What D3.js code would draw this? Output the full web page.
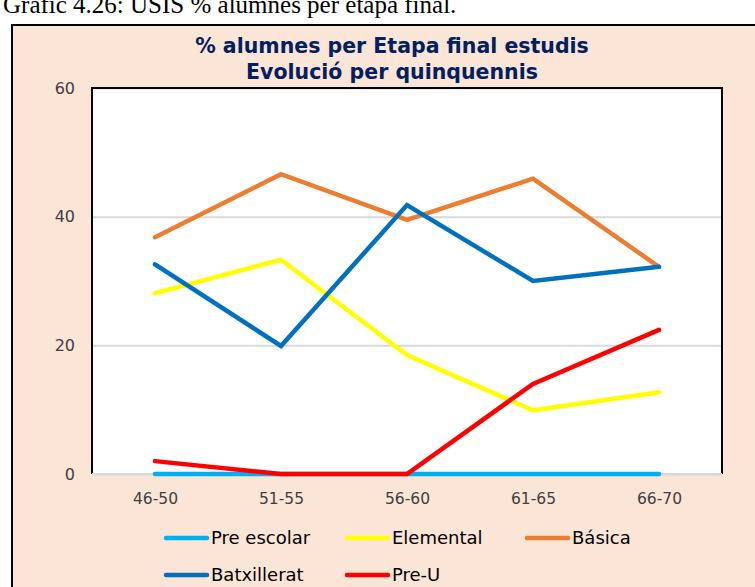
<!DOCTYPE html>
<html>
<head>
<meta charset="utf-8">
<script src="https://cdn.jsdelivr.net/npm/d3@7"></script>
<style>
  html, body { margin: 0; padding: 0; background: #ffffff; }
  svg { display: block; }
</style>
</head>
<body>
<svg id="chart" width="755" height="587"></svg>
<script>
// Five-year periods (quinquennis)
const periods = ["46-50", "51-55", "56-60", "61-65", "66-70"];

// Share of students (%) by final stage of studies
const preEscolar  = [0, 0, 0, 0, 0];
const elemental   = [28.1, 33.3, 18.5, 9.9, 12.7];
const basica      = [36.8, 46.6, 39.5, 45.9, 32.2];
const batxillerat = [32.6, 19.9, 41.8, 30.0, 32.2];
const preU        = [2.0, 0, 0, 14.0, 22.4];

const seriesNames  = ["Pre escolar", "Elemental", "Básica", "Batxillerat", "Pre-U"];
const seriesColors = ["#00B0F0", "#FFFF00", "#ED7D31", "#0070C0", "#FF0000"];
const seriesValues = [preEscolar, elemental, basica, batxillerat, preU];

const yTicks = [0, 20, 40, 60];

const svg = d3.select("#chart");
const W = 755, H = 587;

// Caption above the chart frame
svg.append("text")
  .attr("x", 3).attr("y", 13)
  .attr("font-family", "'Liberation Serif', 'Times New Roman', serif")
  .attr("font-size", 25)
  .attr("fill", "#000")
  .text("Gràfic 4.26: USIS % alumnes per etapa final.");

// Chart frame
svg.append("rect")
  .attr("x", 12).attr("y", 25)
  .attr("width", W + 20).attr("height", H + 20)
  .attr("fill", "#FBE5D6")
  .attr("stroke", "#000").attr("stroke-width", 2);

// Title
const title = svg.append("text")
  .attr("text-anchor", "middle")
  .attr("font-family", "'DejaVu Sans', Verdana, sans-serif")
  .attr("font-weight", "bold")
  .attr("font-size", 20.5)
  .attr("fill", "#002060");
title.append("tspan").attr("x", 392).attr("y", 53).text("% alumnes per Etapa final estudis");
title.append("tspan").attr("x", 392).attr("y", 79).text("Evolució per quinquennis");

// Plot area
const plot = { left: 92, right: 722, top: 88, bottom: 474 };

const x = d3.scalePoint()
  .domain(periods)
  .range([plot.left, plot.right])
  .padding(0.5);

const y = d3.scaleLinear()
  .domain([0, 60])
  .range([plot.bottom, plot.top]);

svg.append("rect")
  .attr("x", plot.left).attr("y", plot.top)
  .attr("width", plot.right - plot.left)
  .attr("height", plot.bottom - plot.top)
  .attr("fill", "#ffffff");

// Horizontal gridlines
const yAxis = d3.axisLeft(y)
  .tickValues(yTicks)
  .tickSize(-(plot.right - plot.left))
  .tickPadding(17)
  .tickFormat(d3.format("d"));

const gy = svg.append("g")
  .attr("transform", `translate(${plot.left},0)`)
  .call(yAxis);
gy.select(".domain").remove();
gy.selectAll(".tick line").attr("stroke", "#D9D9D9").attr("stroke-width", 2);
gy.selectAll(".tick text")
  .attr("font-family", "'DejaVu Sans', Verdana, sans-serif")
  .attr("font-size", 16)
  .attr("fill", "#404040");

// Plot border (top, left, right black; bottom is the light category axis)
svg.append("path")
  .attr("d", `M${plot.left},${plot.bottom} V${plot.top} H${plot.right} V${plot.bottom}`)
  .attr("fill", "none")
  .attr("stroke", "#000")
  .attr("stroke-width", 2);
svg.append("line")
  .attr("x1", plot.left).attr("x2", plot.right)
  .attr("y1", plot.bottom).attr("y2", plot.bottom)
  .attr("stroke", "#D9D9D9").attr("stroke-width", 2);

// Category axis labels
const xAxis = d3.axisBottom(x).tickSize(0).tickPadding(19);
const gx = svg.append("g")
  .attr("transform", `translate(0,${plot.bottom})`)
  .call(xAxis);
gx.select(".domain").remove();
gx.selectAll(".tick text")
  .attr("font-family", "'DejaVu Sans', Verdana, sans-serif")
  .attr("font-size", 15.5)
  .attr("fill", "#404040");

// Series lines
const line = d3.line()
  .x((d, i) => x(periods[i]))
  .y(d => y(d));

seriesValues.forEach((vals, k) => {
  svg.append("path")
    .datum(vals)
    .attr("d", line)
    .attr("fill", "none")
    .attr("stroke", seriesColors[k])
    .attr("stroke-width", 4.5)
    .attr("stroke-linecap", "round")
    .attr("stroke-linejoin", "miter");
});

// Legend
const legendPos = [
  { x: 166, y: 538 }, { x: 347, y: 538 }, { x: 527, y: 538 },
  { x: 166, y: 575 }, { x: 347, y: 575 }
];
seriesNames.forEach((name, k) => {
  const g = svg.append("g").attr("transform", `translate(${legendPos[k].x},${legendPos[k].y})`);
  g.append("line")
    .attr("x1", 0).attr("x2", 41)
    .attr("y1", 0).attr("y2", 0)
    .attr("stroke", seriesColors[k])
    .attr("stroke-width", 4.5)
    .attr("stroke-linecap", "round");
  g.append("text")
    .attr("x", 45).attr("y", 0)
    .attr("dy", "0.35em")
    .attr("font-family", "'DejaVu Sans', Verdana, sans-serif")
    .attr("font-size", 18)
    .attr("fill", "#000")
    .text(name);
});
</script>
</body>
</html>
